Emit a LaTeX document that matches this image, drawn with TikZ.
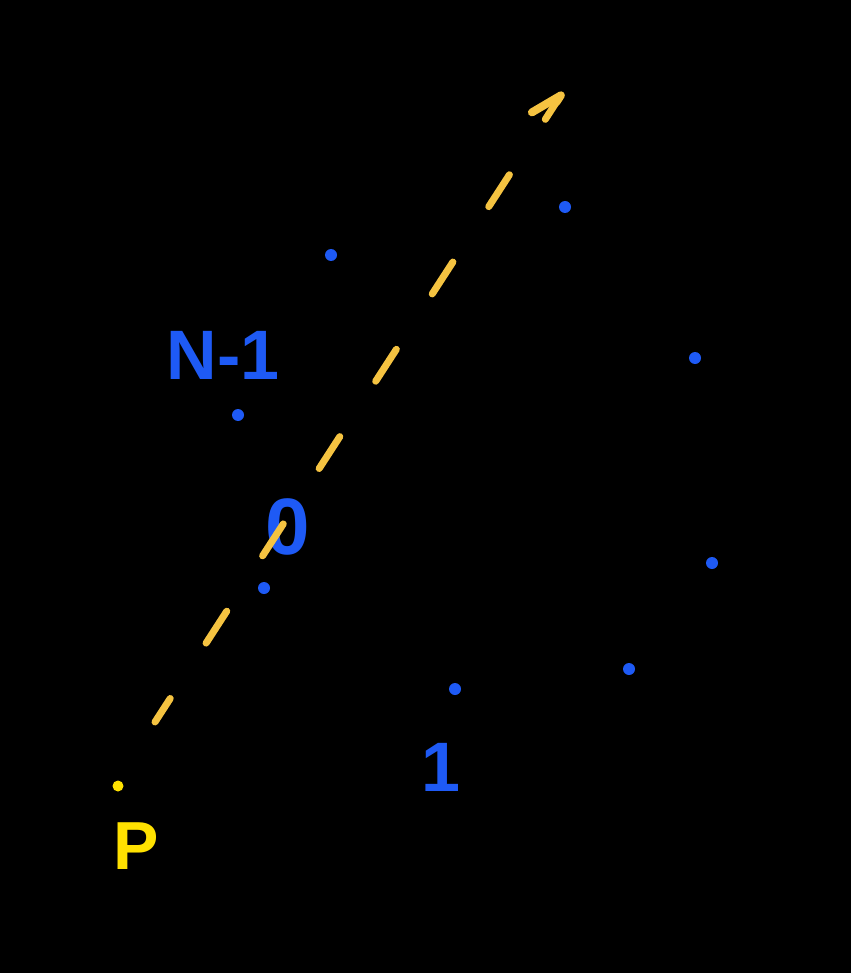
\documentclass[tikz,border=0pt]{standalone}
\usepackage{fontspec}
\setsansfont{Liberation Sans}
\usetikzlibrary{arrows.meta}
\definecolor{dotblue}{RGB}{30,90,245}
\definecolor{pyellow}{RGB}{255,225,0}
\definecolor{dashorange}{RGB}{245,195,65}
\begin{document}
\begin{tikzpicture}[x=1pt,y=-1pt,
  bdot/.style={circle,fill=dotblue,inner sep=0pt,minimum size=12pt},
  blabel/.style={text=dotblue,font=\sffamily\bfseries\fontsize{70}{70}\selectfont,inner sep=0pt},
  plabel/.style={text=pyellow,font=\sffamily\bfseries\fontsize{68}{68}\selectfont,inner sep=0pt},
  ydot/.style={circle,fill=pyellow,inner sep=0pt,minimum size=11pt},
  rayline/.style={draw=dashorange,line width=7pt,line cap=round,
    dash pattern=on 38pt off 66pt,dash phase=10pt,
    -{Straight Barb[left,length=30pt,width=30pt,line width=8pt,round]}}
]
\fill[black] (0,0) rectangle (851,973);
\useasboundingbox (0,0) rectangle (851,973);
% blue points
\node[bdot] (d1) at (331,255) {};
\node[bdot] (d2) at (565,207) {};
\node[bdot] (d3) at (695,358) {};
\node[bdot] (d4) at (712,563) {};
\node[bdot] (d5) at (629,669) {};
\node[bdot] (d6) at (455,689) {};
\node[bdot] (d7) at (264,588) {};
\node[bdot] (d8) at (238,415) {};
% labels
\node[blabel] (lN) at (223,355) {N-1};
\node[blabel,font=\sffamily\bfseries\fontsize{80}{80}\selectfont] (l0) at (288,527) {0};
\node[blabel] (l1) at (441,767) {1};
% P
\node[ydot] (p) at (118,786) {};
\node[plabel] (lP) at (136,846) {P};
% ray
\coordinate (rs) at (155,722);
\coordinate (re) at (563,92);
\draw[rayline] (rs) -- (re);
\end{tikzpicture}
\end{document}
